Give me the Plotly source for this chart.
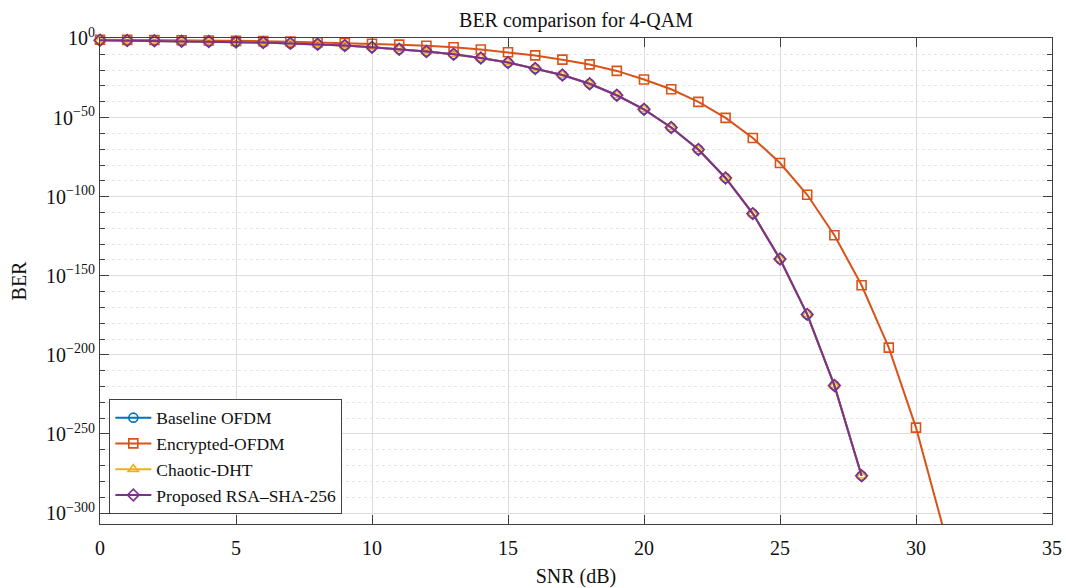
import plotly.graph_objects as go

# SNR grids (dB)
snr_main = list(range(0, 29))
snr_enc = list(range(0, 32))

# BER exponents (log10 of BER) per scheme
baseline_exp = [-1.1, -1.3, -1.5, -1.7, -1.9, -2.2, -2.6, -3.1, -3.7, -4.5,
                -5.5, -6.8, -8.2, -10.0, -12.3, -15.2, -19.0, -23.1, -28.6, -35.9,
                -44.8, -56.3, -70.2, -88.2, -110.7, -139.4, -174.4, -219.3, -276.4]
encrypted_exp = [-0.8, -0.9, -1.0, -1.1, -1.3, -1.5, -1.7, -2.0, -2.4, -2.8,
                 -3.3, -3.9, -4.6, -5.5, -7.0, -8.7, -10.7, -13.4, -16.4, -20.5,
                 -25.9, -32.1, -40.1, -50.2, -62.9, -78.7, -98.8, -124.4, -156.0, -195.4,
                 -246.0, -309.4]
chaotic_exp = [-1.1, -1.3, -1.5, -1.7, -1.9, -2.2, -2.6, -3.1, -3.7, -4.5,
               -5.5, -6.8, -8.2, -10.0, -12.3, -15.2, -19.0, -23.1, -28.6, -35.9,
               -44.8, -56.3, -70.2, -88.2, -110.7, -139.4, -174.4, -219.3, -276.4]
proposed_exp = [-1.1, -1.3, -1.5, -1.7, -1.9, -2.2, -2.6, -3.1, -3.7, -4.5,
                -5.5, -6.8, -8.2, -10.0, -12.3, -15.2, -19.0, -23.1, -28.6, -35.9,
                -44.8, -56.3, -70.2, -88.2, -110.7, -139.4, -174.4, -219.3, -276.4]

series_names = ["Baseline OFDM", "Encrypted-OFDM", "Chaotic-DHT", "Proposed RSA\u2013SHA-256"]
x_ticks = [0, 5, 10, 15, 20, 25, 30, 35]
y_tick_exps = [0, -50, -100, -150, -200, -250, -300]

SERIF = "Liberation Serif"
TXT = "#111111"
colors = ["#0072BD", "#D95319", "#EDB120", "#7E2F8E"]
symbols = ["circle-open", "square-open", "triangle-up-open", "diamond-open"]

def ber(exps):
    return [10.0 ** e for e in exps]

fig = go.Figure()
series = [(snr_main, baseline_exp), (snr_enc, encrypted_exp),
          (snr_main, chaotic_exp), (snr_main, proposed_exp)]
for (xs, ex), name, c, s in zip(series, series_names, colors, symbols):
    fig.add_trace(go.Scatter(
        x=xs, y=ber(ex), name=name, mode="lines+markers",
        line=dict(color=c, width=2),
        marker=dict(symbol=s, size=9, color=c, line=dict(color=c, width=1.6)),
        cliponaxis=False,
    ))

axis_col = "#404040"
major_grid = "#dcdcdc"
minor_grid = "#e6e6e6"

def sup(e):
    return "10<sup>" + (str(e) if e >= 0 else "\u2212" + str(-e)) + "</sup>"

minor_vals = [10.0 ** (-k) for k in range(10, 301, 10) if k % 50 != 0]

fig.update_layout(
    width=1066, height=588,
    margin=dict(l=100, r=14, t=38, b=64),
    paper_bgcolor="white", plot_bgcolor="white",
    font=dict(family=SERIF, size=20, color=TXT),
    title=dict(text="BER comparison for 4-QAM", x=0.5, xref="paper", xanchor="center",
               y=1, yref="paper", yanchor="bottom", pad=dict(b=11),
               font=dict(family=SERIF, size=20, color=TXT)),
    showlegend=True,
    legend=dict(x=0.0098, y=0.021, xanchor="left", yanchor="bottom",
                bgcolor="white", bordercolor="#404040", borderwidth=1,
                font=dict(family=SERIF, size=17.5, color=TXT),
                itemwidth=36, tracegroupgap=0),
)

fig.update_xaxes(
    range=[0, 35], tickmode="array", tickvals=x_ticks, automargin=False,
    ticks="inside", ticklen=9, tickwidth=1, tickcolor=axis_col,
    showline=True, linecolor=axis_col, linewidth=1, mirror="ticks",
    showgrid=True, gridcolor=major_grid, gridwidth=1, zeroline=False,
    tickfont=dict(family=SERIF, size=20, color=TXT), ticklabelstandoff=6,
    title=dict(text="SNR (dB)", font=dict(family=SERIF, size=20, color=TXT), standoff=12),
)

fig.update_yaxes(
    type="log", range=[-306.9, 0.3], automargin=False,
    tickmode="array", tickvals=[10.0 ** e for e in y_tick_exps],
    ticktext=[sup(e) for e in y_tick_exps],
    ticks="inside", ticklen=9, tickwidth=1, tickcolor=axis_col,
    showline=True, linecolor=axis_col, linewidth=1, mirror="ticks",
    showgrid=True, gridcolor=major_grid, gridwidth=1, zeroline=False,
    tickfont=dict(family=SERIF, size=20, color=TXT),
    minor=dict(tickmode="array", tickvals=minor_vals, ticks="inside", ticklen=5,
               tickcolor=axis_col, tickwidth=1, showgrid=True,
               gridcolor=minor_grid, gridwidth=1, griddash="dot"),
    title=dict(text="BER", font=dict(family=SERIF, size=20, color=TXT), standoff=14),
)

fig.write_html("out.html")
